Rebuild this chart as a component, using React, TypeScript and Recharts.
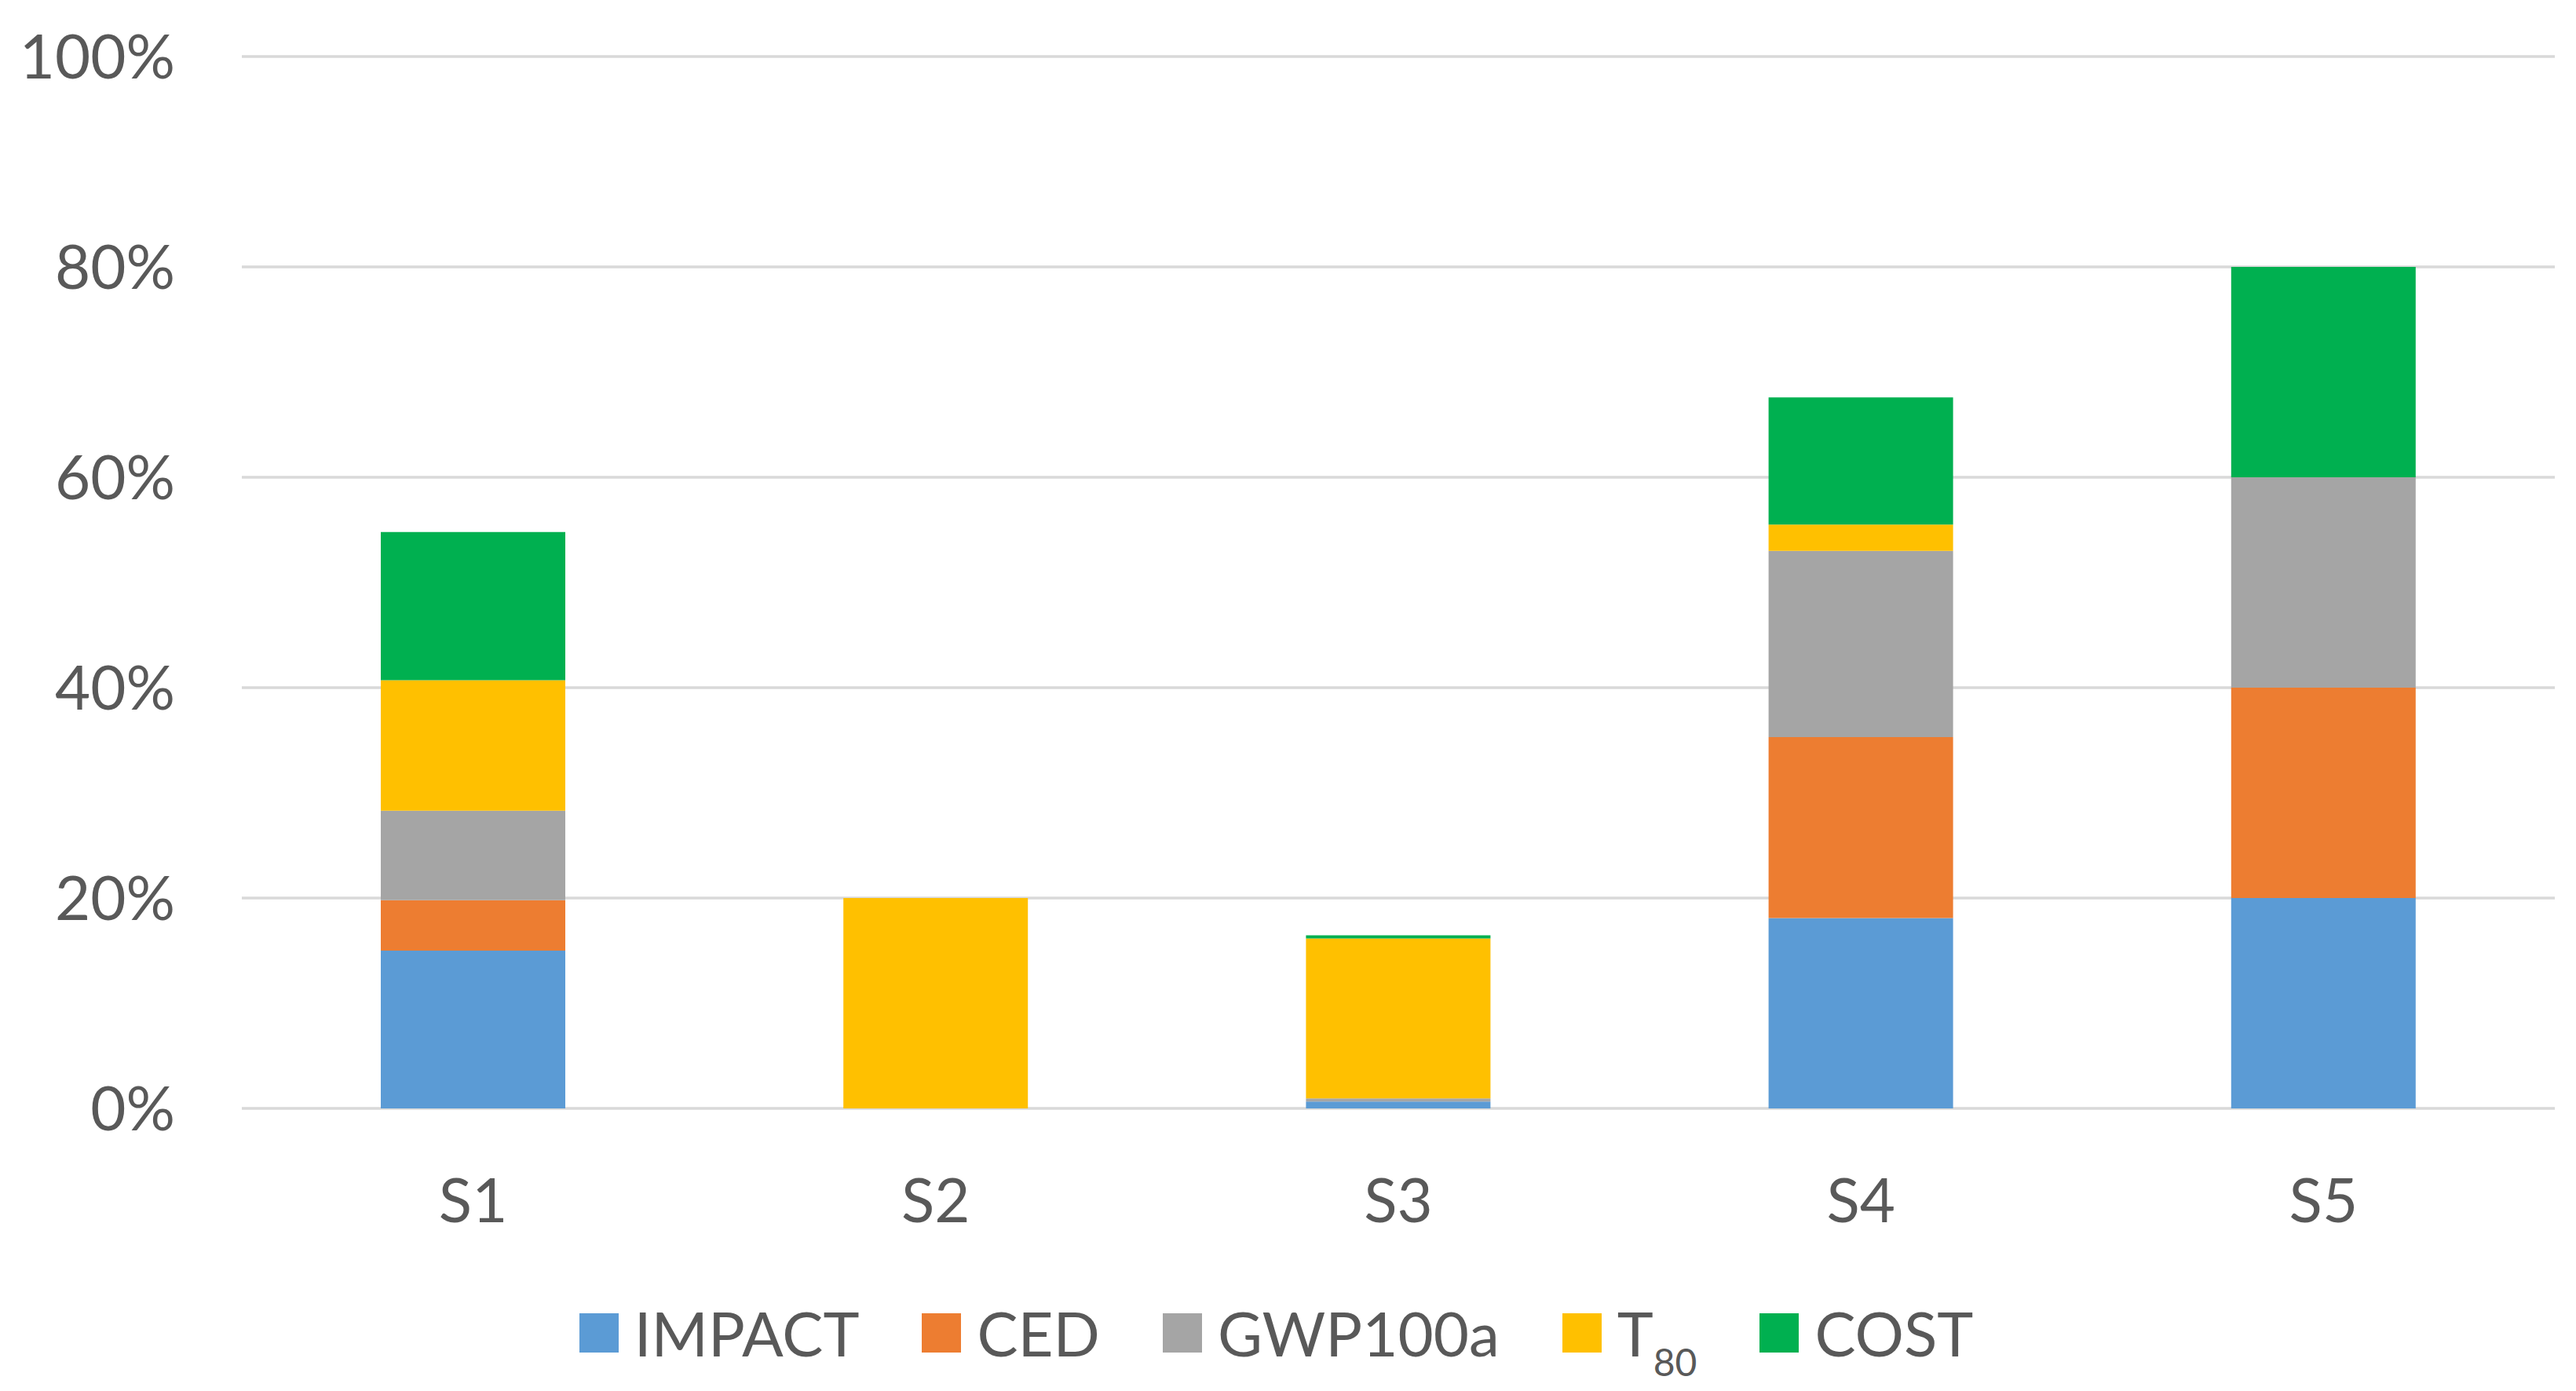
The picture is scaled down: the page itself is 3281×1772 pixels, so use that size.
import React from 'react';
import { BarChart, Bar, XAxis, YAxis, CartesianGrid, Legend } from 'recharts';

const scenarios = ['S1', 'S2', 'S3', 'S4', 'S5'];
const impact = [15.0, 0, 0.65, 18.1, 20];
const ced = [4.8, 0, 0, 17.2, 20];
const gwp = [8.5, 0, 0.3, 17.7, 20];
const t80 = [12.4, 20, 15.2, 2.5, 0];
const cost = [14.1, 0, 0.3, 12.1, 20];
const yTicks = [0, 20, 40, 60, 80, 100];

const series = [
  { key: 'impact', name: 'IMPACT', color: '#5B9BD5' },
  { key: 'ced', name: 'CED', color: '#ED7D31' },
  { key: 'gwp', name: 'GWP100a', color: '#A5A5A5' },
  { key: 't80', name: 'T80', color: '#FFC000' },
  { key: 'cost', name: 'COST', color: '#00B050' },
];

const data = scenarios.map((s, i) => ({
  name: s,
  impact: impact[i],
  ced: ced[i],
  gwp: gwp[i],
  t80: t80[i],
  cost: cost[i],
}));

const W = 3281;
const H = 1772;
const FONT = 'Lato, "Open Sans", sans-serif';
const TEXT = '#595959';

// legend drawn like Excel: square + label, T80 with subscript
const renderLegend = () => (
  <div
    style={{
      display: 'flex',
      justifyContent: 'center',
      alignItems: 'center',
      fontFamily: FONT,
      fontSize: 78,
      lineHeight: 1,
      color: TEXT,
      paddingRight: 30,
    }}
  >
    {series.map((s, i) => (
      <div
        key={s.key}
        style={{ display: 'flex', alignItems: 'center', marginRight: i < series.length - 1 ? 80 : 0 }}
      >
        <div style={{ width: 50, height: 50, backgroundColor: s.color, marginRight: 20 }} />
        {s.key === 't80' ? (
          <span>
            T<span style={{ fontSize: 48, position: 'relative', top: 25 }}>80</span>
          </span>
        ) : (
          <span>{s.name}</span>
        )}
      </div>
    ))}
  </div>
);

export default function App() {
  return (
    <div style={{ position: 'absolute', left: 0, top: 0, width: W, height: H, background: '#fff' }}>
      <BarChart
        width={W}
        height={H}
        data={data}
        margin={{ top: 72, right: 27, left: 0, bottom: 0 }}
      >
        <CartesianGrid vertical={false} stroke="#D9D9D9" strokeWidth={3.5} />
        <XAxis
          dataKey="name"
          height={360}
          axisLine={false}
          tickLine={false}
          tickSize={0}
          tickMargin={90}
          tick={{ fontFamily: FONT, fontSize: 78, fill: TEXT }}
        />
        <YAxis
          width={308}
          domain={[0, 100]}
          ticks={yTicks}
          tickFormatter={(v) => `${v}%`}
          axisLine={false}
          tickLine={false}
          tickSize={0}
          tickMargin={85}
          tick={{ fontFamily: FONT, fontSize: 78, fill: TEXT }}
        />
        <Legend
          layout="horizontal"
          verticalAlign="middle"
          align="center"
          content={renderLegend}
          wrapperStyle={{ top: 1659, left: 0, width: W }}
        />
        {series.map((s) => (
          <Bar
            key={s.key}
            dataKey={s.key}
            name={s.name}
            stackId="a"
            fill={s.color}
            barSize={235}
            isAnimationActive={false}
          />
        ))}
      </BarChart>
    </div>
  );
}
